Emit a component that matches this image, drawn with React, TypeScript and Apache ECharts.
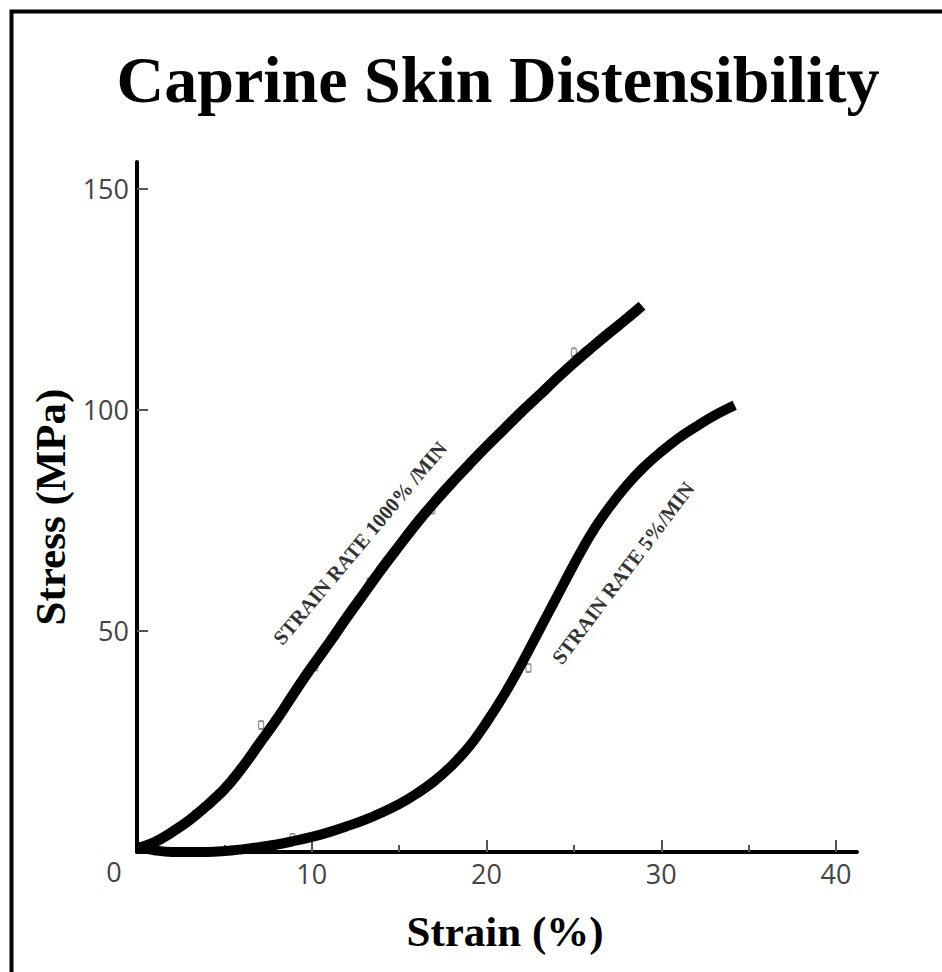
import React, { useEffect, useRef } from "react";
import * as echarts from "echarts";

const TITLE = "Caprine Skin Distensibility";
const X_NAME = "Strain (%)";
const Y_NAME = "Stress (MPa)";

const xMajorTicks = [10, 20, 30, 40];
const xMinorTicks = [5, 15, 25, 35];
const yTicks = [50, 100, 150];

const fastLabel = "STRAIN RATE 1000% /MIN";
const fastStrain = [0, 1, 2, 3, 4, 5, 6, 7, 8, 9, 10, 11, 12, 13, 14, 15, 16, 17, 18, 19, 20, 21, 22, 23, 24, 25, 26, 27, 28, 28.9];
const fastStress = [0.8, 2.2, 4.5, 7.2, 10.5, 14.2, 19, 24.5, 30, 36, 41.8, 47.3, 53, 58.5, 64, 69.2, 74.3, 79, 83.4, 87.6, 91.7, 95.6, 99.5, 103.2, 107, 110.6, 114, 117.3, 120.5, 123.5];

const slowLabel = "STRAIN RATE 5%/MIN";
const slowStrain = [0, 1, 2, 3, 4, 5, 6, 7, 8, 9, 10, 11, 12, 13, 14, 15, 16, 17, 18, 19, 20, 21, 22, 23, 24, 25, 26, 27, 28, 29, 30, 31, 32, 33, 34.2];
const slowStress = [1.2, 0.4, 0, 0, 0, 0.2, 0.6, 1.1, 1.7, 2.5, 3.4, 4.5, 5.8, 7.2, 8.9, 10.8, 13.2, 16, 19.5, 23.8, 29.3, 35.5, 42.5, 50, 57.5, 65, 72, 77.8, 82.8, 87, 90.5, 93.6, 96.2, 98.6, 101];

const obsStrain = [3.3, 7.1, 10.2, 13.3, 16.9, 25.0, 8.9, 22.4];
const obsStress = [8.4, 28.7, 41.9, 61, 77.4, 113, 3.2, 41.6];

const X_MIN = 0;
const X_MAX = 41.2;
const Y_MIN = 0;
const Y_MAX = 156;

export default function App() {
  const ref = useRef<HTMLDivElement>(null);
  useEffect(() => {
    if (!ref.current) return;
    const chart = echarts.init(ref.current, null, { renderer: "svg" });
    const pair = (xs: number[], ys: number[]) => xs.map((x, i) => [x, ys[i]]);
    const tickLabelStyle = {
      fontFamily: "Open Sans",
      fontSize: 27,
      color: "#444",
    };
    const nameStyle = {
      fontFamily: "Liberation Serif",
      fontWeight: "bold" as const,
      fontSize: 43,
      color: "#000",
    };
    const curveLabelStyle = {
      fontFamily: "Liberation Serif",
      fontWeight: "bold" as const,
      fontSize: 20.5,
      fill: "#333",
      textAlign: "center" as const,
      textVerticalAlign: "middle" as const,
    };
    chart.setOption({
      animation: false,
      backgroundColor: "#fff",
      title: {
        text: TITLE,
        left: 493,
        textAlign: "center",
        top: 41,
        textStyle: {
          fontFamily: "Liberation Serif",
          fontWeight: "bold",
          fontSize: 66,
          color: "#000",
        },
      },
      grid: { left: 137, right: 85, top: 162, bottom: 120 },
      xAxis: [
        {
          type: "value",
          min: X_MIN,
          max: X_MAX,
          name: X_NAME,
          nameLocation: "middle",
          nameGap: 58,
          nameTextStyle: { ...nameStyle, padding: [0, 0, 0, 16] },
          axisLine: { show: true, lineStyle: { color: "#000", width: 4 } },
          axisTick: { show: true, inside: true, length: 12, customValues: xMajorTicks, lineStyle: { color: "#555", width: 2 } },
          axisLabel: { show: true, margin: 8, customValues: xMajorTicks, ...tickLabelStyle },
          splitLine: { show: false },
        },
        {
          type: "value",
          min: X_MIN,
          max: X_MAX,
          position: "bottom",
          axisLine: { show: false },
          axisTick: { show: true, inside: true, length: 7, customValues: xMinorTicks, lineStyle: { color: "#555", width: 2 } },
          axisLabel: { show: false },
          splitLine: { show: false },
        },
      ],
      yAxis: {
        type: "value",
        min: Y_MIN,
        max: Y_MAX,
        name: Y_NAME,
        nameLocation: "middle",
        nameRotate: 90,
        nameGap: 58,
        nameTextStyle: nameStyle,
        axisLine: { show: true, lineStyle: { color: "#000", width: 4 } },
        axisTick: { show: true, inside: true, length: 11, customValues: yTicks, lineStyle: { color: "#555", width: 2 } },
        axisLabel: { show: true, margin: 8, customValues: yTicks, ...tickLabelStyle },
        splitLine: { show: false },
      },
      graphic: [
        {
          type: "rect",
          shape: { x: 11.5, y: 11.5, width: 1000, height: 1000 },
          style: { fill: "none", stroke: "#000", lineWidth: 4 },
          silent: true,
        },
        {
          type: "text",
          x: 114,
          y: 871,
          style: { text: "0", ...tickLabelStyle, fill: "#444", textAlign: "center", textVerticalAlign: "middle" },
        },
        {
          type: "text",
          x: 360,
          y: 543,
          rotation: (50 * Math.PI) / 180,
          style: { text: fastLabel, ...curveLabelStyle },
        },
        {
          type: "text",
          x: 623,
          y: 573,
          rotation: (53 * Math.PI) / 180,
          style: { text: slowLabel, ...curveLabelStyle },
        },
      ],
      series: [
        {
          name: "Observed",
          type: "scatter",
          xAxisIndex: 0,
          data: pair(obsStrain, obsStress),
          symbol: "roundRect",
          symbolSize: [5, 8],
          itemStyle: { color: "#fff", borderColor: "#777", borderWidth: 1.5 },
          z: 1,
        },
        {
          name: fastLabel,
          type: "line",
          xAxisIndex: 0,
          data: pair(fastStrain, fastStress),
          smooth: 0.4,
          showSymbol: false,
          clip: false,
          lineStyle: { color: "#000", width: 10.5 },
          z: 3,
        },
        {
          name: slowLabel,
          type: "line",
          xAxisIndex: 0,
          data: pair(slowStrain, slowStress),
          smooth: 0.4,
          showSymbol: false,
          clip: false,
          lineStyle: { color: "#000", width: 10 },
          z: 3,
        },
      ],
    });
    return () => chart.dispose();
  }, []);
  return (
    <div
      ref={ref}
      style={{ position: "fixed", left: 0, top: 0, width: 942, height: 972 }}
    />
  );
}
